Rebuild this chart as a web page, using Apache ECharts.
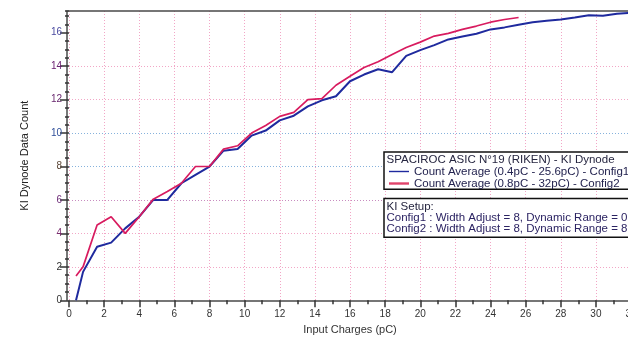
<!DOCTYPE html>
<html>
<head>
<meta charset="utf-8">
<script src="https://cdn.jsdelivr.net/npm/echarts@6/dist/echarts.min.js"></script>
<style>
  html, body { margin: 0; padding: 0; background: #fff; }
  #chart { width: 628px; height: 338px; }
</style>
</head>
<body>
<div id="chart"></div>
<script>
// input charge (pC) of each measurement
const charges = [0.4, 0.8, 1.6, 2.4, 3.2, 4.0, 4.8, 5.6, 6.4, 7.2, 8.0, 8.8, 9.6, 10.4, 11.2, 12.0,
  12.8, 13.6, 14.4, 15.2, 16.0, 16.8, 17.6, 18.4, 19.2, 20.0, 20.8, 21.6, 22.4, 23.2, 24.0, 24.8,
  25.6, 26.4, 27.2, 28.0, 28.8, 29.6, 30.4, 31.2, 32.0]

// Config1 (blue), full range
const config1Counts = [0, 1.7, 3.2, 3.45, 4.3, 5.0, 6.0, 6.0, 7.0, 7.5, 8.0, 8.95, 9.05, 9.85, 10.15, 10.76,
  11.04, 11.6, 11.96, 12.2, 13.1, 13.5, 13.82, 13.64, 14.62, 14.96, 15.26, 15.6, 15.78, 15.94, 16.2, 16.32,
  16.48, 16.63, 16.71, 16.79, 16.91, 17.05, 17.01, 17.13, 17.2]

// Config2 (red), stops at 25.6 pC
const config2Counts = [1.45, 2.0, 4.5, 5.0, 4.0, 5.0, 6.05, 6.5, 7.0, 8.0, 8.0, 9.04, 9.24, 10.0, 10.45, 11.0,
  11.24, 12.0, 12.06, 12.86, 13.4, 13.92, 14.26, 14.7, 15.12, 15.44, 15.8, 15.96, 16.2, 16.4, 16.63, 16.79,
  16.91]

const yTickLabels = [0, 2, 4, 6, 8, 10, 12, 14, 16]

const seriesNames = [
  'Count Average (0.4pC - 25.6pC) - Config1',
  'Count Average (0.8pC - 32pC) - Config2'
]
const boxTitle = 'SPACIROC ASIC N°19 (RIKEN) - KI Dynode'
const setupLines = [
  'KI Setup:',
  'Config1 : Width Adjust = 8, Dynamic Range = 0',
  'Config2 : Width Adjust = 8, Dynamic Range = 8'
]

const FONT = '"Liberation Sans", Arial, sans-serif'
const BLUE = '#1f2a9e'
const RED = '#d81b5f'
const AXIS = '#4a4a4a'

// the scan shows tick labels in slightly different tints
const yLabelTint = ['#333333', '#333333', '#7a2c6e', '#6e2c78', '#5a4636', '#2f4f9a', '#6a2a70', '#6a2070', '#4a4aa0']
const rich = {}
yTickLabels.forEach((v, i) => {
  rich['c' + v] = { color: yLabelTint[i], fontSize: 10, fontFamily: FONT }
})

const pair = (xs, ys) => ys.map((y, i) => [xs[i], y])

const chart = echarts.init(document.getElementById('chart'), null, { renderer: 'canvas' })

chart.setOption({
  animation: false,
  backgroundColor: '#fff',
  grid: { left: 69, right: -3, top: 11, bottom: 37.7, containLabel: false, outerBoundsMode: 'none' },
  xAxis: [
    {
      type: 'value',
      position: 'bottom',
      min: 0,
      max: 32,
      interval: 2,
      name: 'Input Charges (pC)',
      nameLocation: 'middle',
      nameGap: 22,
      nameTextStyle: { fontFamily: FONT, fontSize: 11, color: '#333' },
      axisLine: { onZero: false, lineStyle: { color: AXIS, width: 1.5 } },
      axisTick: { length: 7, lineStyle: { color: '#333', width: 1.5 } },
      minorTick: { show: true, splitNumber: 2, length: 4, lineStyle: { color: '#333', width: 1.5 } },
      axisLabel: { margin: 9, fontSize: 10, color: '#333', fontFamily: FONT, showMaxLabel: true, hideOverlap: false },
      splitLine: { show: true, lineStyle: { color: '#f2a6c6', type: [1, 2], width: 1 } }
    },
    {
      // top frame line
      type: 'value',
      position: 'top',
      min: 0,
      max: 32,
      axisLine: { onZero: false, lineStyle: { color: AXIS, width: 1.5 } },
      axisTick: { show: false },
      axisLabel: { show: false },
      splitLine: { show: false }
    }
  ],
  yAxis: [
    {
      type: 'value',
      position: 'left',
      offset: 2,
      min: 0,
      max: 17.3,
      interval: 2,
      name: 'KI Dynode Data Count',
      nameLocation: 'middle',
      nameGap: 37,
      nameTextStyle: { fontFamily: FONT, fontSize: 11, color: '#222' },
      axisLine: { show: true, onZero: false, lineStyle: { color: AXIS, width: 1.5 } },
      axisTick: { length: 7, lineStyle: { color: '#333', width: 1.5 } },
      axisLabel: {
        margin: 5,
        showMaxLabel: false,
        formatter: v => (yTickLabels.includes(v) ? `{c${v}|${v}}` : ''),
        rich
      },
      splitLine: {
        show: true,
        lineStyle: {
          type: [1, 2],
          width: 1,
          color: ['transparent', '#f2a6c6', '#f2a6c6', '#c88cc0', '#86b2dc', '#86b2dc', '#f2a6c6', '#f2a6c6', 'transparent', 'transparent']
        }
      }
    },
    {
      // minor ticks every 0.5
      type: 'value',
      position: 'left',
      offset: 2,
      min: 0,
      max: 17.3,
      interval: 0.5,
      axisLine: { show: false },
      axisTick: { length: 4, lineStyle: { color: '#333', width: 1.5 } },
      axisLabel: { show: false },
      splitLine: { show: false }
    }
  ],
  legend: {
    left: 389,
    top: 165.5,
    orient: 'vertical',
    padding: 0,
    itemWidth: 20,
    itemHeight: 10.7,
    itemGap: 0,
    z: 60,
    textStyle: { fontFamily: FONT, fontSize: 11.5, color: '#23234f', lineHeight: 10.7 },
    data: [
      { name: seriesNames[0], icon: 'path://M0 0H20V1.4H0Z', itemStyle: { color: BLUE } },
      { name: seriesNames[1], icon: 'path://M0 0H20V2.4H0Z', itemStyle: { color: '#e0436a' } }
    ]
  },
  graphic: [
    {
      type: 'rect', z: 50,
      shape: { x: 384, y: 152, width: 260, height: 37.3 },
      style: { fill: '#fff', stroke: '#111', lineWidth: 1.5 }
    },
    {
      type: 'text', z: 51, x: 386.5, y: 160,
      style: { text: boxTitle, fill: '#262640', font: '11.5px ' + FONT, verticalAlign: 'middle' }
    },
    {
      type: 'rect', z: 50,
      shape: { x: 384, y: 198.5, width: 260, height: 38.7 },
      style: { fill: '#fff', stroke: '#111', lineWidth: 1.5 }
    },
    ...setupLines.map((t, i) => ({
      type: 'text', z: 51, x: 386.5, y: 206.5 + i * 11.3,
      style: { text: t, fill: i === 0 ? '#262640' : '#2c2463', font: '11.5px ' + FONT, verticalAlign: 'middle' }
    }))
  ],
  series: [
    {
      name: seriesNames[0],
      type: 'line',
      xAxisIndex: 0,
      yAxisIndex: 0,
      symbol: 'none',
      lineStyle: { color: BLUE, width: 2 },
      itemStyle: { color: BLUE },
      data: pair(charges, config1Counts)
    },
    {
      name: seriesNames[1],
      type: 'line',
      xAxisIndex: 0,
      yAxisIndex: 0,
      symbol: 'none',
      lineStyle: { color: RED, width: 1.7 },
      itemStyle: { color: RED },
      data: pair(charges, config2Counts)
    }
  ]
})
</script>
</body>
</html>
